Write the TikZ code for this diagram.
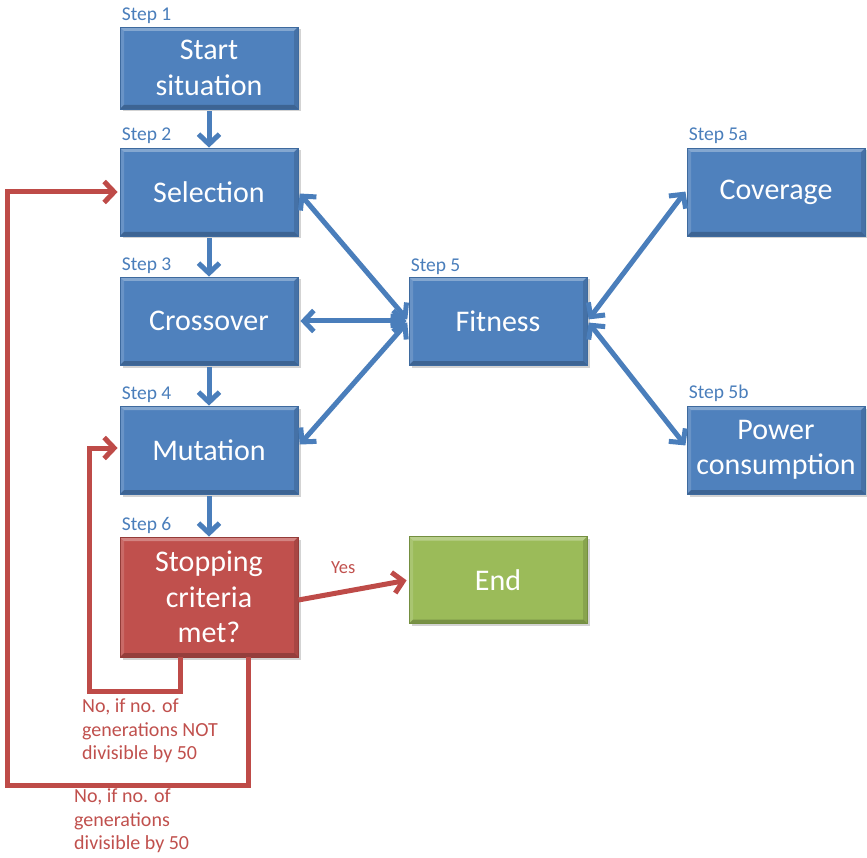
\documentclass[tikz,border=0pt]{standalone}
\usepackage{fontspec}
\setmainfont{Carlito}
\usetikzlibrary{arrows.meta,shadows,calc}

\definecolor{bluefill}{HTML}{4F81BD}
\definecolor{blueline}{HTML}{3E6A9E}
\definecolor{redfill}{HTML}{C0504D}
\definecolor{redline}{HTML}{943C39}
\definecolor{greenfill}{HTML}{9BBB59}
\definecolor{greenline}{HTML}{748F40}
\definecolor{arrowblue}{HTML}{4A7EBB}
\definecolor{arrowred}{HTML}{BE4B48}

\begin{document}
\begin{tikzpicture}[x=1pt,y=1pt,
  bevel/.style={path picture={
    \coordinate (bnw) at (path picture bounding box.north west);
    \coordinate (bne) at (path picture bounding box.north east);
    \coordinate (bsw) at (path picture bounding box.south west);
    \coordinate (bse) at (path picture bounding box.south east);
    \fill[white,opacity=0.30] (bnw) -- (bne) -- ($(bne)+(-4,-4)$) -- ($(bnw)+(4,-4)$) -- cycle;
    \fill[white,opacity=0.15] (bnw) -- ($(bnw)+(4,-4)$) -- ($(bsw)+(4,4)$) -- (bsw) -- cycle;
    \fill[black,opacity=0.22] (bsw) -- (bse) -- ($(bse)+(-4,4)$) -- ($(bsw)+(4,4)$) -- cycle;
    \fill[black,opacity=0.12] (bne) -- (bse) -- ($(bse)+(-4,4)$) -- ($(bne)+(-4,-4)$) -- cycle;
  }},
  stagebox/.style={rectangle, minimum width=178pt, minimum height=88pt,
    inner sep=0pt, text width=172pt, align=center, text=white,
    font=\fontsize{30}{35.5}\selectfont, line width=0.8pt, bevel,
    drop shadow={shadow xshift=2.5pt, shadow yshift=-2.5pt, opacity=0.35}},
  bluebox/.style={stagebox, fill=bluefill, draw=blueline},
  redbox/.style={stagebox, fill=redfill, draw=redline},
  greenbox/.style={stagebox, fill=greenfill, draw=greenline},
  steplabel/.style={anchor=base west, inner sep=0pt, text=arrowblue,
    font=\fontsize{19.5}{22}\selectfont},
  notelabel/.style={inner sep=0pt, text=redfill, align=left,
    font=\fontsize{20}{23.5}\selectfont},
  barb/.tip={Straight Barb[length=10pt,width=21pt]},
  bluearrow/.style={draw=arrowblue, line width=5pt, -barb},
  bothways/.style={draw=arrowblue, line width=5pt, barb-barb, shorten <=2pt, shorten >=2pt},
  redarrow/.style={draw=arrowred, line width=5pt, -barb}
]
\useasboundingbox (0,0) rectangle (867,-858);

% main chain
\node[bluebox, minimum height=82pt] (start) at (209,-68) {Start\\situation};
\node[bluebox] (sel)   at (209,-192) {Selection};
\node[bluebox] (cross) at (209,-321) {Crossover};
\node[bluebox] (mut)   at (209,-450) {Mutation};
\node[redbox, minimum height=120pt] (stop) at (209,-597) {Stopping\\criteria\\met?};

% fitness evaluation
\node[bluebox] (fit) at (498,-321) {Fitness};
\node[bluebox] (cov) at (776,-192) {Coverage};
\node[bluebox] (pow) at (776,-450) {Power\\consumption};

% termination
\node[greenbox, minimum height=87pt] (end) at (498,-580) {End};

% step labels
\node[steplabel] (l1)  at ($(start.north west)+(2,6)$) {Step 1};
\node[steplabel] (l2)  at ($(sel.north west)+(2,7)$)   {Step 2};
\node[steplabel] (l3)  at ($(cross.north west)+(2,6)$) {Step 3};
\node[steplabel] (l4)  at ($(mut.north west)+(2,6)$)   {Step 4};
\node[steplabel] (l6)  at ($(stop.north west)+(2,6)$)  {Step 6};
\node[steplabel] (l5)  at ($(fit.north west)+(2,5)$)   {Step 5};
\node[steplabel] (l5a) at ($(cov.north west)+(2,7)$)   {Step 5a};
\node[steplabel] (l5b) at ($(pow.north west)+(2,7)$)   {Step 5b};

% forward flow
\draw[bluearrow, shorten <=2pt] (start) -- (sel);
\draw[bluearrow, shorten <=2pt] (sel) -- (cross);
\draw[bluearrow, shorten <=2pt] (cross) -- (mut);
\draw[bluearrow, shorten <=2pt] (mut) -- (stop);

% fitness links
\draw[bothways] (sel.east) -- (fit.west);
\draw[bothways] (cross.east) -- (fit.west);
\draw[bothways] ([yshift=4pt]mut.east) -- (fit.west);
\draw[bothways] (fit.east) -- ([yshift=2pt]cov.west);
\draw[bothways] (fit.east) -- ([yshift=3pt]pow.west);

% termination branch
\draw[redarrow, shorten >=2pt] ([yshift=-3pt]stop.east) -- (end.west);
\node[anchor=base west, inner sep=0pt, text=redfill, font=\fontsize{18.5}{22}\selectfont] (yes) at (331,-573) {Yes};

% loop back to mutation
\coordinate (innerturn) at (89,-691);
\draw[redarrow, shorten >=2pt] ([xshift=-29pt]stop.south) |- (innerturn) |- ([yshift=2pt]mut.west);
\node[notelabel, anchor=north west] (noinner) at (82,-699) {No, if no. of\\generations NOT\\divisible by 50};

% loop back to selection
\coordinate (outerturn) at (7,-785);
\draw[redarrow, shorten >=2pt] ([xshift=39pt]stop.south) |- (outerturn) |- (sel.west);
\node[notelabel, anchor=north west] (noouter) at (74,-789) {No, if no. of\\generations\\divisible by 50};

\end{tikzpicture}
\end{document}
